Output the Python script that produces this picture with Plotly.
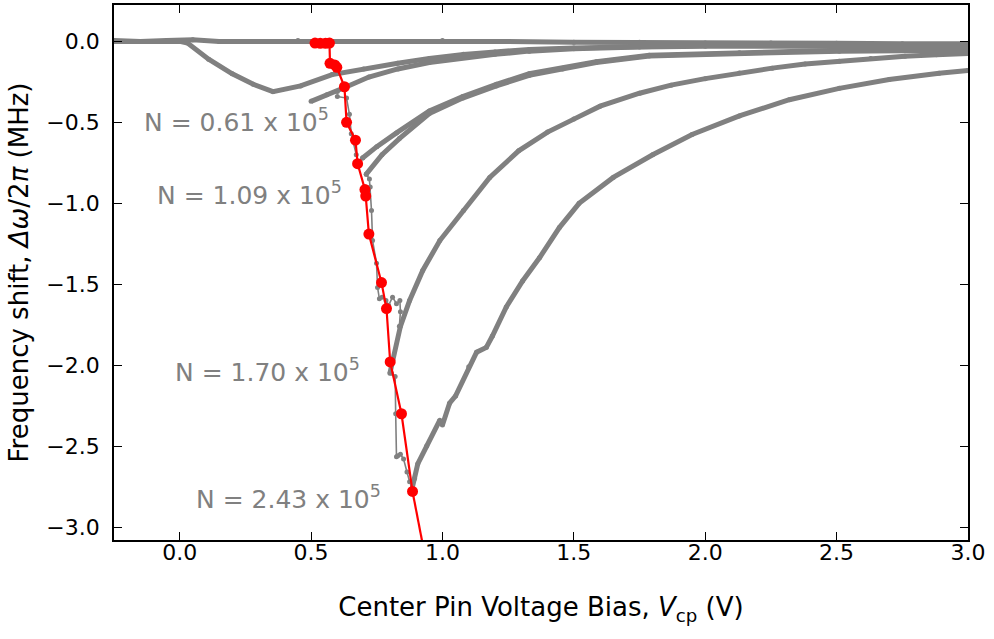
import plotly.graph_objects as go

GRAY = "#808080"
RED = "#ff0000"

# ---- data ----
flat_x = [-0.25, -0.15, -0.05, 0.05, 0.15, 0.3, 0.45, 0.6, 0.8, 1.0, 1.25, 1.5, 1.75, 2.0, 2.25, 2.5, 2.75, 3.0]
flat_y = [0.005, 0.0, 0.005, 0.01, 0.0, 0.0, 0.005, 0.0, 0.0, 0.005, 0.0, -0.005, -0.005, -0.01, -0.01, -0.012, -0.015, -0.015]

dip_x = [-0.25, -0.1, 0.0, 0.03, 0.11, 0.2, 0.28, 0.355, 0.46, 0.58, 0.7, 0.83, 0.95, 1.08, 1.2, 1.33, 1.5, 1.75, 2.0, 2.5, 3.0]
dip_y = [0.0, 0.0, 0.0, -0.01, -0.11, -0.2, -0.265, -0.31, -0.275, -0.205, -0.17, -0.135, -0.105, -0.08, -0.065, -0.05, -0.04, -0.03, -0.025, -0.025, -0.03]

n061_x = [0.50, 0.56, 0.60, 0.635, 0.72, 0.83, 0.95, 1.08, 1.2, 1.33, 1.5, 1.75, 2.0, 2.5, 3.0]
n061_y = [-0.37, -0.33, -0.31, -0.28, -0.22, -0.17, -0.13, -0.10, -0.08, -0.06, -0.045, -0.035, -0.03, -0.03, -0.035]

n109a_x = [0.696, 0.75, 0.825, 0.95, 1.077, 1.205, 1.33, 1.457, 1.585, 1.787, 2.13, 2.51, 3.0]
n109a_y = [-0.72, -0.65, -0.565, -0.43, -0.34, -0.265, -0.20, -0.165, -0.125, -0.085, -0.07, -0.055, -0.05]
n109b_x = [0.71, 0.77, 0.836, 0.95, 1.077, 1.205, 1.33, 1.457, 1.585, 1.787, 2.13, 2.51, 3.0]
n109b_y = [-0.82, -0.70, -0.60, -0.445, -0.35, -0.275, -0.21, -0.17, -0.13, -0.09, -0.075, -0.06, -0.055]

n170_x = [0.80, 0.81, 0.84, 0.875, 0.925, 0.99, 1.08, 1.18, 1.29, 1.40, 1.5, 1.6, 1.75, 1.87, 2.0, 2.13, 2.255, 2.38, 2.51, 2.63, 2.76, 2.88, 3.0]
n170_y = [-2.05, -1.97, -1.76, -1.60, -1.415, -1.23, -1.045, -0.84, -0.676, -0.56, -0.48, -0.40, -0.32, -0.27, -0.23, -0.195, -0.165, -0.14, -0.123, -0.105, -0.092, -0.082, -0.074]

n243_x = [0.886, 0.894, 0.906, 0.94, 0.99, 1.0, 1.027, 1.05, 1.10, 1.13, 1.167, 1.19, 1.243, 1.305, 1.37, 1.445, 1.52, 1.65, 1.80, 1.95, 2.13, 2.32, 2.51, 2.70, 2.89, 3.0]
n243_y = [-2.75, -2.70, -2.61, -2.50, -2.34, -2.37, -2.235, -2.19, -2.01, -1.92, -1.89, -1.82, -1.64, -1.48, -1.335, -1.15, -1.00, -0.84, -0.70, -0.575, -0.46, -0.36, -0.29, -0.235, -0.197, -0.18]

# sparse, steep returns along the critical line
ret243_x = [0.886, 0.875, 0.865, 0.852, 0.84, 0.83, 0.825, 0.822, 0.82, 0.806, 0.80]
ret243_y = [-2.75, -2.72, -2.66, -2.58, -2.55, -2.56, -2.565, -2.30, -2.07, -2.05, -1.99]
step_x = [0.836, 0.84, 0.838, 0.825, 0.81, 0.795, 0.785, 0.77, 0.76, 0.753, 0.749, 0.734, 0.73, 0.725, 0.722, 0.71]
step_y = [-1.76, -1.67, -1.60, -1.62, -1.58, -1.63, -1.60, -1.58, -1.59, -1.52, -1.37, -1.23, -1.045, -0.90, -0.85, -0.82]
step2_x = [0.696, 0.68, 0.672, 0.653, 0.646, 0.635, 0.60]
step2_y = [-0.72, -0.75, -0.70, -0.57, -0.45, -0.35, -0.34]

red_x = [0.515, 0.535, 0.555, 0.57, 0.572, 0.59, 0.598, 0.627, 0.635, 0.669, 0.677, 0.705, 0.708, 0.72, 0.768, 0.787, 0.801, 0.844, 0.886]
red_y = [-0.01, -0.012, -0.012, -0.01, -0.135, -0.145, -0.16, -0.28, -0.50, -0.61, -0.755, -0.915, -0.955, -1.19, -1.49, -1.65, -1.98, -2.30, -2.78]
red_tail_x = [0.886, 0.93]
red_tail_y = [-2.78, -3.15]

labels = ["N = 0.61 x 10<sup>5</sup>", "N = 1.09 x 10<sup>5</sup>",
          "N = 1.70 x 10<sup>5</sup>", "N = 2.43 x 10<sup>5</sup>"]
label_x = [-0.142, -0.095, -0.025, 0.055]
label_y = [-0.49, -0.94, -2.03, -2.82]

x_ticks = [0.0, 0.5, 1.0, 1.5, 2.0, 2.5, 3.0]
y_ticks = [-3.0, -2.5, -2.0, -1.5, -1.0, -0.5, 0.0]

fig = go.Figure()

def dense(x, y):
    fig.add_trace(go.Scatter(x=x, y=y, mode="lines+markers",
                             line=dict(color=GRAY, width=5),
                             marker=dict(color=GRAY, size=5),
                             showlegend=False, hoverinfo="skip"))

def sparse(x, y):
    fig.add_trace(go.Scatter(x=x, y=y, mode="lines+markers",
                             line=dict(color=GRAY, width=1.6),
                             marker=dict(color=GRAY, size=5),
                             showlegend=False, hoverinfo="skip"))

for xs, ys in [(flat_x, flat_y), (dip_x, dip_y), (n061_x, n061_y),
               (n109a_x, n109a_y), (n109b_x, n109b_y),
               (n170_x, n170_y), (n243_x, n243_y)]:
    dense(xs, ys)
for xs, ys in [(ret243_x, ret243_y), (step_x, step_y), (step2_x, step2_y)]:
    sparse(xs, ys)

fig.add_trace(go.Scatter(x=red_tail_x, y=red_tail_y, mode="lines",
                         line=dict(color=RED, width=2.2),
                         showlegend=False, hoverinfo="skip"))
fig.add_trace(go.Scatter(x=red_x, y=red_y, mode="lines+markers",
                         line=dict(color=RED, width=2.2),
                         marker=dict(color=RED, size=11),
                         showlegend=False, hoverinfo="skip"))

for t, lx, ly in zip(labels, label_x, label_y):
    fig.add_annotation(x=lx, y=ly, text=t, showarrow=False,
                       xanchor="left", yanchor="middle",
                       font=dict(family="DejaVu Sans", size=25, color=GRAY))

axis_common = dict(showline=True, linecolor="black", linewidth=1.8, mirror="ticks",
                   ticks="inside", ticklen=8, tickwidth=1.2, tickcolor="black",
                   showgrid=False, zeroline=False,
                   tickfont=dict(family="DejaVu Sans", size=22, color="black"),
                   tickformat=".1f")

fig.update_xaxes(range=[-0.25, 3.0], tickvals=x_ticks,
                 title=dict(text="Center Pin Voltage Bias, <i>V</i><sub>cp</sub> (V)",
                            font=dict(family="DejaVu Sans", size=26, color="black"),
                            standoff=34),
                 ticklabelstandoff=-8, **axis_common)
fig.update_yaxes(range=[-3.08, 0.225], tickvals=y_ticks,
                 title=dict(text="Frequency shift, <i>Δω</i>/2<i>π</i> (MHz)",
                            font=dict(family="DejaVu Sans", size=26, color="black"),
                            standoff=10),
                 ticklabelstandoff=8, **axis_common)

fig.update_layout(width=994, height=639, autosize=False,
                  margin=dict(l=114, r=26, t=3, b=99),
                  plot_bgcolor="white", paper_bgcolor="white",
                  font=dict(family="DejaVu Sans"))

fig.write_html("out.html")
